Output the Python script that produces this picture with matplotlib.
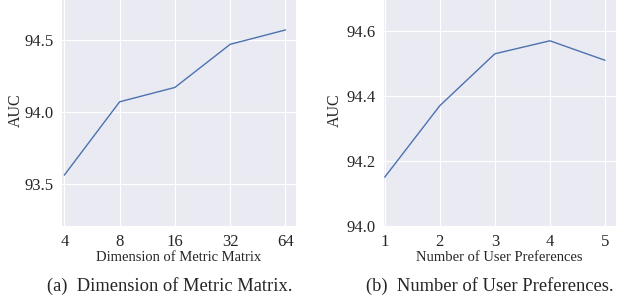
import matplotlib
matplotlib.use("Agg")
import matplotlib.pyplot as plt
import seaborn as sns

dims = ["4", "8", "16", "32", "64"]
auc_dims = [93.56, 94.07, 94.17, 94.47, 94.57]

prefs = ["1", "2", "3", "4", "5"]
auc_prefs = [94.15, 94.37, 94.53, 94.57, 94.51]

sns.set_style("darkgrid")
plt.rcParams["font.family"] = ["Liberation Serif", "DejaVu Serif"]

fig = plt.figure(figsize=(6.24, 3.07), dpi=100)
ax1 = fig.add_axes([61 / 624, 1 - 226 / 307, 235 / 624, 232 / 307])
ax2 = fig.add_axes([383 / 624, 1 - 226 / 307, 233 / 624, 232 / 307])

ax1.plot(range(len(dims)), auc_dims, color="#4c72b0", lw=1)
ax1.set_xticks(range(len(dims)))
ax1.set_xticklabels(dims)
ax1.set_xlim(-0.06, 4.19)
ax1.set_ylim(93.206, 94.82)
ax1.set_yticks([93.5, 94.0, 94.5])
ax1.set_xlabel("Dimension of Metric Matrix", fontsize=10.5, labelpad=1)
ax1.set_ylabel("AUC", fontsize=11.5)
ax1.yaxis.set_label_coords(-0.157, 0.5)

ax2.plot(range(len(prefs)), auc_prefs, color="#4c72b0", lw=1)
ax2.set_xticks(range(len(prefs)))
ax2.set_xticklabels(prefs)
ax2.set_xlim(-0.03, 4.2)
ax2.set_ylim(94.0, 94.714)
ax2.set_yticks([94.0, 94.2, 94.4, 94.6])
ax2.set_xlabel("Number of User Preferences", fontsize=10.5, labelpad=1)
ax2.set_ylabel("AUC", fontsize=11.5)
ax2.yaxis.set_label_coords(-0.172, 0.5)

for ax in (ax1, ax2):
    ax.tick_params(labelsize=12, pad=2)

fig.text(170 / 624, 1 - 286 / 307, "(a)  Dimension of Metric Matrix.",
         ha="center", va="center", fontsize=13.3)
fig.text(490 / 624, 1 - 286 / 307, "(b)  Number of User Preferences.",
         ha="center", va="center", fontsize=13.3)

fig.savefig("out.png", dpi=100)
plt.close(fig)
